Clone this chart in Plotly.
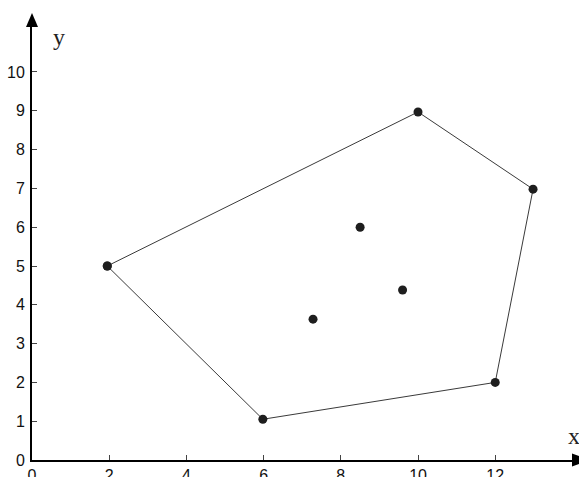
import plotly.graph_objects as go

# Convex hull vertices (closed polygon)
hull_x = [1.95, 10.0, 12.98, 12.0, 5.98, 1.95]
hull_y = [5.0, 8.97, 6.98, 2.0, 1.05, 5.0]
# Interior points
inner_x = [8.5, 9.6, 7.28]
inner_y = [6.0, 4.38, 3.63]

x_ticks = [0, 2, 4, 6, 8, 10, 12]
y_ticks = list(range(0, 11))

W, H = 579, 477
ml, mb, mt, mr = 32, 17, 20, 0
xr = [0, 14.17]
yr = [0, 11.34]

fig = go.Figure()
fig.add_trace(go.Scatter(x=hull_x, y=hull_y, mode="lines+markers",
                         line=dict(color="#3a3a3a", width=1),
                         marker=dict(color="#1e1e1e", size=9),
                         hoverinfo="skip", showlegend=False, cliponaxis=False))
fig.add_trace(go.Scatter(x=inner_x, y=inner_y, mode="markers",
                         marker=dict(color="#1e1e1e", size=9),
                         hoverinfo="skip", showlegend=False))

# axis arrowheads as pixel-sized shapes anchored at the axis ends
arrow_style = dict(type="path", xref="paper", yref="paper",
                   xsizemode="pixel", ysizemode="pixel",
                   fillcolor="black", line=dict(width=0), layer="above")
fig.add_shape(**arrow_style, xanchor=0, yanchor=1, path="M-6,-7 L6,-7 L0,7 Z")
fig.add_shape(**arrow_style, xanchor=1, yanchor=0, path="M-7,-6.5 L-7,6.5 L11,0 Z")

fig.update_layout(
    width=W, height=H,
    margin=dict(l=ml, r=mr, t=mt, b=mb, pad=0, autoexpand=False),
    plot_bgcolor="white", paper_bgcolor="white",
    font=dict(family="Liberation Sans, Arial", size=16, color="#111"),
    xaxis=dict(range=xr, tickvals=x_ticks, showgrid=False, zeroline=False,
               showline=True, linecolor="black", linewidth=2, automargin=False,
               ticks="inside", ticklen=5, tickwidth=1, tickcolor="#444",
               ticklabelstandoff=0),
    yaxis=dict(range=yr, tickvals=y_ticks, showgrid=False, zeroline=False,
               showline=True, linecolor="black", linewidth=2, automargin=False,
               ticks="inside", ticklen=5, tickwidth=1, tickcolor="#444",
               ticklabelstandoff=2),
    annotations=[
        dict(x=0.7, y=10.9, xref="x", yref="y", text="y", showarrow=False,
             font=dict(family="Liberation Serif, Times New Roman", size=24, color="#222")),
        dict(x=14.04, y=0.62, xref="x", yref="y", text="x", showarrow=False,
             font=dict(family="Liberation Serif, Times New Roman", size=24, color="#222")),
    ],
)

fig.write_html("out.html", config={"displayModeBar": False},
               post_script="document.body.style.margin='0';document.body.style.overflow='hidden';")
